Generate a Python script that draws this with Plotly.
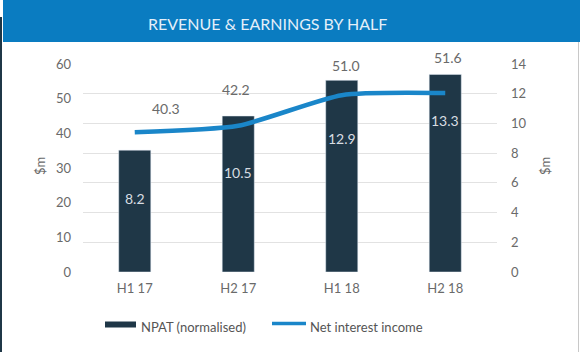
import plotly.graph_objects as go

categories = ["H1 17", "H2 17", "H1 18", "H2 18"]
npat = [8.2, 10.5, 12.9, 13.3]
nii = [40.3, 42.2, 51.0, 51.6]
npat_labels = ["8.2", "10.5", "12.9", "13.3"]
nii_labels = ["40.3", "42.2", "51.0", "51.6"]
left_ticks = [0, 10, 20, 30, 40, 50, 60]
right_ticks = [0, 2, 4, 6, 8, 10, 12, 14]

# label offsets (pixels) - styling only
nii_label_shift = [(31, 24), (-2, 36), (4, 30), (3, 36)]
npat_label_shift = [-48, -56, -58, -46]

FONT = "Lato"
BAR = "#1f3747"
LINE = "#1a86c9"
GREY = "#6a6a6a"

W, H = 580, 352
L, R, T, B = 83, 83, 64, 80
pw, ph = W - L - R, H - T - B

def px(x):
    return (x - L) / pw

def py(y):
    return (H - B - y) / ph

fig = go.Figure()
fig.add_trace(go.Bar(x=categories, y=npat, yaxis="y", marker_color=BAR,
                     width=0.31, name="NPAT (normalised)", showlegend=False))
fig.add_trace(go.Scatter(x=categories, y=nii, yaxis="y2", mode="lines",
                         line=dict(color=LINE, width=4.5, shape="spline", smoothing=0.6),
                         name="Net interest income", showlegend=False))

ann = []
for c, v, t, (dx, dy) in zip(categories, nii, nii_labels, nii_label_shift):
    ann.append(dict(x=c, y=v, xref="x", yref="y2", text=t, showarrow=False,
                    xshift=dx, yshift=dy, font=dict(family=FONT, size=14, color=GREY)))
for c, v, t, dy in zip(categories, npat, npat_labels, npat_label_shift):
    ann.append(dict(x=c, y=v, xref="x", yref="y", text=t, showarrow=False,
                    yshift=dy, font=dict(family=FONT, size=14, color="#d8dde2")))

# title
ann.append(dict(x=px(267), y=py(23), xref="paper", yref="paper",
                text="REVENUE &amp; EARNINGS BY HALF", showarrow=False,
                xanchor="center", yanchor="middle",
                font=dict(family=FONT, size=16, color="#e3eff9")))
# axis titles
for xx in (40, 545):
    ann.append(dict(x=px(xx), y=py(166), xref="paper", yref="paper", text="$m",
                    textangle=-90, showarrow=False, xanchor="center", yanchor="middle",
                    font=dict(family=FONT, size=13, color=GREY)))
# legend texts
ann.append(dict(x=px(139), y=py(327), xref="paper", yref="paper", text="NPAT (normalised)",
                showarrow=False, xanchor="left", yanchor="middle",
                font=dict(family=FONT, size=13, color="#555555")))
ann.append(dict(x=px(308), y=py(327), xref="paper", yref="paper", text="Net interest income",
                showarrow=False, xanchor="left", yanchor="middle",
                font=dict(family=FONT, size=13, color="#555555")))

shapes = [
    dict(type="rect", xref="paper", yref="paper", x0=px(3), x1=px(582), y0=py(42), y1=py(-2),
         fillcolor="#0a7cc1", line=dict(width=0), layer="above"),
    dict(type="line", xref="paper", yref="paper", x0=px(1), x1=px(1), y0=py(17), y1=py(353),
         line=dict(color=BAR, width=2)),
    dict(type="line", xref="paper", yref="paper", x0=px(578.5), x1=px(578.5), y0=py(42), y1=py(353),
         line=dict(color="#c8c8c8", width=1)),
    dict(type="rect", xref="paper", yref="paper", x0=px(105), x1=px(136), y0=py(327.5), y1=py(321.5),
         fillcolor=BAR, line=dict(width=0)),
    dict(type="line", xref="paper", yref="paper", x0=px(272), x1=px(306), y0=py(323.5), y1=py(323.5),
         line=dict(color=LINE, width=3.5)),
]

fig.update_layout(
    width=W, height=H,
    margin=dict(l=L, r=R, t=T, b=B, pad=0),
    paper_bgcolor="white", plot_bgcolor="white",
    showlegend=False,
    bargap=0.69,
    font=dict(family=FONT, size=13, color=GREY),
    xaxis=dict(showgrid=False, showline=False, zeroline=False, ticks="",
               ticklabelstandoff=7, tickfont=dict(family=FONT, size=13, color=GREY)),
    yaxis=dict(side="right", range=[0, 14], tickvals=right_ticks, showgrid=True,
               gridcolor="#e2e2e2", gridwidth=1, zeroline=False, showline=False,
               ticks="", ticklabelstandoff=13, tickfont=dict(family=FONT, size=13, color=GREY)),
    yaxis2=dict(side="left", overlaying="y", range=[0, 60], tickvals=left_ticks,
                showgrid=False, zeroline=False, showline=False, ticks="",
                ticklabelstandoff=11, tickfont=dict(family=FONT, size=13, color=GREY)),
    annotations=ann,
    shapes=shapes,
)

fig.write_html("out.html")
